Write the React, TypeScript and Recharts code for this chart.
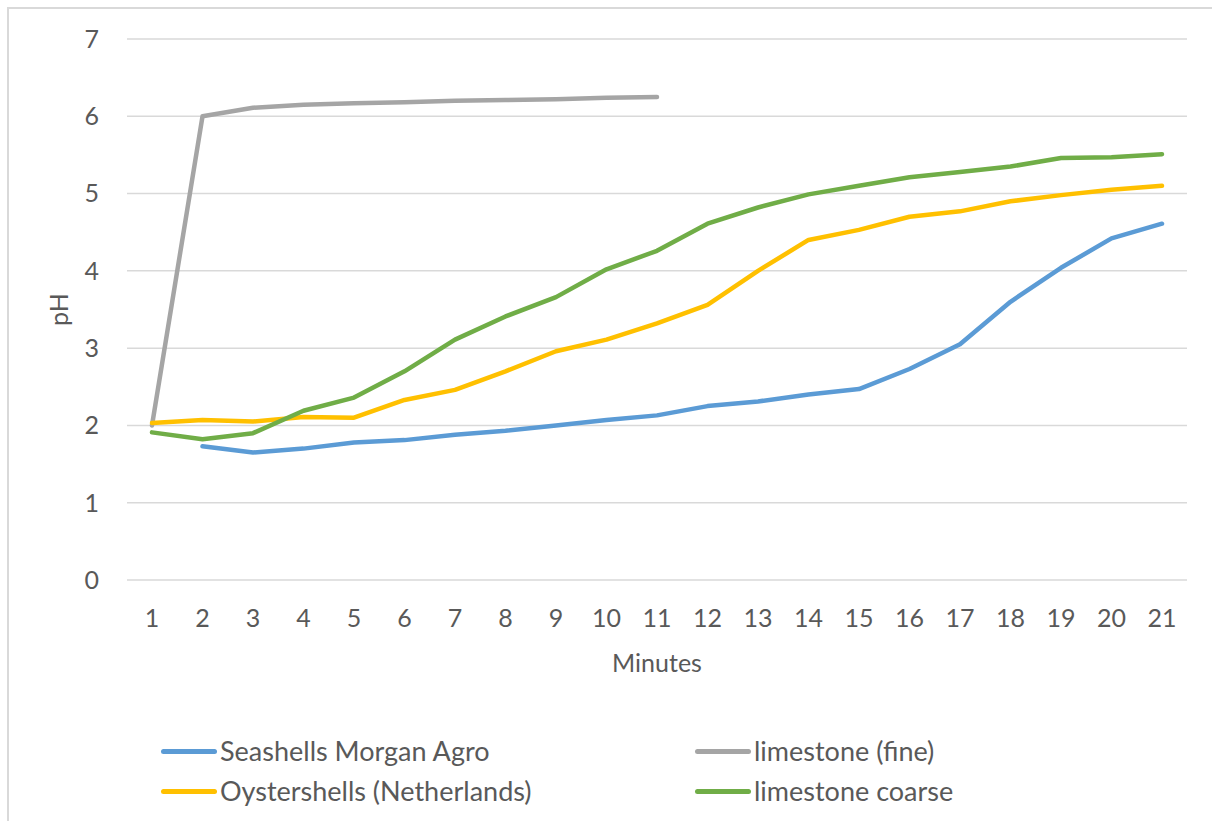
import { LineChart, Line, XAxis, YAxis, CartesianGrid, Legend } from 'recharts'

const minutes = ['1', '2', '3', '4', '5', '6', '7', '8', '9', '10', '11', '12', '13', '14', '15', '16', '17', '18', '19', '20', '21']

const seashells = [null, 1.73, 1.65, 1.7, 1.78, 1.81, 1.88, 1.93, 2.0, 2.07, 2.13, 2.25, 2.31, 2.4, 2.47, 2.73, 3.05, 3.6, 4.04, 4.42, 4.61]
const limestoneFine = [2.0, 6.0, 6.11, 6.15, 6.17, 6.18, 6.2, 6.21, 6.22, 6.24, 6.25, null, null, null, null, null, null, null, null, null, null]
const oystershells = [2.03, 2.07, 2.05, 2.11, 2.1, 2.33, 2.46, 2.7, 2.96, 3.11, 3.32, 3.56, 4.0, 4.4, 4.53, 4.7, 4.77, 4.9, 4.98, 5.05, 5.1]
const limestoneCoarse = [1.91, 1.82, 1.9, 2.19, 2.36, 2.7, 3.11, 3.41, 3.66, 4.02, 4.26, 4.61, 4.82, 4.99, 5.1, 5.21, 5.28, 5.35, 5.46, 5.47, 5.51]

const yTicks = [0, 1, 2, 3, 4, 5, 6, 7]

const series = [
  { key: 'seashells', name: 'Seashells Morgan Agro', color: '#5b9bd5' },
  { key: 'limestoneFine', name: 'limestone (fine)', color: '#a5a5a5' },
  { key: 'oystershells', name: 'Oystershells (Netherlands)', color: '#ffc000' },
  { key: 'limestoneCoarse', name: 'limestone coarse', color: '#70ad47' },
]

const data = minutes.map((m, i) => ({
  minute: m,
  seashells: seashells[i],
  limestoneFine: limestoneFine[i],
  oystershells: oystershells[i],
  limestoneCoarse: limestoneCoarse[i],
}))

const FONT = 'Lato, sans-serif'
const TEXT = '#595959'

// legend laid out as 2 columns, 2 rows like the excel one
const legendPos = [
  { left: 161, top: 0 },
  { left: 695, top: 0 },
  { left: 161, top: 40 },
  { left: 695, top: 40 },
]

function renderLegend() {
  return (
    <div style={{ position: 'relative', width: 1212, height: 80 }}>
      {series.map((s, i) => (
        <div
          key={s.key}
          style={{
            position: 'absolute',
            left: legendPos[i].left,
            top: legendPos[i].top,
            height: 40,
            display: 'flex',
            alignItems: 'center',
          }}
        >
          <div style={{ width: 56, height: 5, borderRadius: 3, background: s.color }} />
          <span
            style={{
              marginLeft: 3,
              fontFamily: FONT,
              fontSize: 27,
              lineHeight: '40px',
              color: TEXT,
              whiteSpace: 'nowrap',
            }}
          >
            {s.name}
          </span>
        </div>
      ))}
    </div>
  )
}

export default function App() {
  return (
    <div style={{ position: 'absolute', left: 0, top: 0, width: 1212, height: 821, background: '#fff', overflow: 'hidden' }}>
      <div
        style={{
          position: 'absolute',
          left: 7,
          top: 7,
          width: 1240,
          height: 840,
          borderTop: '2px solid #d9d9d9',
          borderLeft: '2px solid #d9d9d9',
        }}
      />
      <LineChart
        width={1212}
        height={821}
        data={data}
        margin={{ top: 39, right: 25, left: 0, bottom: 146 }}
        style={{ position: 'absolute', left: 0, top: 0 }}
      >
        <CartesianGrid vertical={false} stroke="#d9d9d9" strokeWidth={1.5} />
        <XAxis
          dataKey="minute"
          axisLine={false}
          tickLine={false}
          tickSize={0}
          tickMargin={29}
          height={95}
          padding={{ left: 25, right: 25 }}
          tick={{ fill: TEXT, fontSize: 25, fontFamily: FONT }}
          interval={0}
          label={{ value: 'Minutes', position: 'insideBottom', offset: 3, fill: TEXT, fontSize: 25, fontFamily: FONT }}
        />
        <YAxis
          domain={[0, 7]}
          ticks={yTicks}
          axisLine={false}
          tickLine={false}
          tickSize={0}
          tickMargin={28}
          width={127}
          tick={{ fill: TEXT, fontSize: 25, fontFamily: FONT }}
          label={{ value: 'pH', angle: -90, position: 'center', dx: -4, fill: TEXT, fontSize: 25, fontFamily: FONT }}
        />
        <Legend
          layout="horizontal"
          verticalAlign="middle"
          align="center"
          content={renderLegend}
          wrapperStyle={{ position: 'absolute', left: 0, top: 731, width: 1212 }}
        />
        {series.map((s) => (
          <Line
            key={s.key}
            type="linear"
            dataKey={s.key}
            name={s.name}
            stroke={s.color}
            strokeWidth={4.5}
            strokeLinecap="round"
            strokeLinejoin="round"
            dot={false}
            activeDot={false}
            isAnimationActive={false}
          />
        ))}
      </LineChart>
    </div>
  )
}
